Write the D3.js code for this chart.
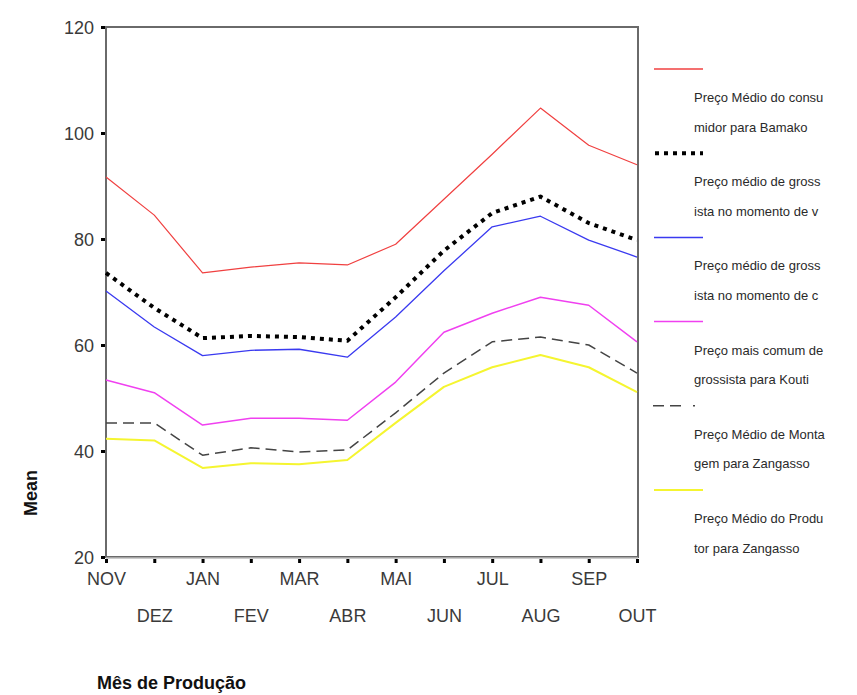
<!DOCTYPE html>
<html><head><meta charset="utf-8">
<script src="https://cdn.jsdelivr.net/npm/d3@7"></script>
<style>body{margin:0;background:#fff}svg{display:block}</style>
</head><body>
<svg id="c" width="857" height="695"></svg>
<script>
const months = ["NOV","DEZ","JAN","FEV","MAR","ABR","MAI","JUN","JUL","AUG","SEP","OUT"];
const yTicks = [20,40,60,80,100,120];
const consumidorBamako = [91.7,84.5,73.6,74.7,75.5,75.1,79,87.5,96,104.7,97.7,94];
const grossistaV      = [73.6,67,61.3,61.7,61.5,60.8,69,77.8,84.9,88,83,79.8];
const grossistaC      = [70.2,63.4,58,59,59.2,57.7,65.3,74,82.3,84.3,79.8,76.6];
const comumKouti      = [53.4,51,44.9,46.2,46.2,45.8,53,62.4,66,69,67.5,60.6];
const montagemZang    = [45.3,45.3,39.2,40.6,39.8,40.2,47.2,54.7,60.6,61.5,60,54.7];
const produtorZang    = [42.3,42,36.8,37.7,37.5,38.3,45.3,52.1,55.8,58.1,55.8,51.1];
const legendLabels = [
  ["Preço Médio do consu","midor para Bamako"],
  ["Preço médio de gross","ista no momento de v"],
  ["Preço médio de gross","ista no momento de c"],
  ["Preço mais comum de","grossista para Kouti"],
  ["Preço Médio de Monta","gem para Zangasso"],
  ["Preço Médio do Produ","tor para Zangasso"]
];
const seriesData = [consumidorBamako, grossistaV, grossistaC, comumKouti, montagemZang, produtorZang];
const styles = [
  {c:"#f04040", w:1.2, d:null},
  {c:"#000", w:4, d:"4,5"},
  {c:"#3a3af0", w:1.3, d:null},
  {c:"#f040f0", w:1.5, d:null},
  {c:"#444", w:1.5, d:"11,6"},
  {c:"#f5f530", w:2, d:null}
];

const svg = d3.select("#c");
const L=106, R=638, T=27, B=557;
const x = d3.scalePoint().domain(months).range([L, 637]);
const y = d3.scaleLinear().domain([20,120]).range([B, T]);
const font = "'Liberation Sans', Arial, sans-serif";

// frame
svg.append("rect").attr("x",L).attr("y",T).attr("width",R-L).attr("height",B-T)
  .attr("fill","none").attr("stroke","#6a6a6a").attr("stroke-width",2);
svg.append("line").attr("x1",L).attr("x2",R).attr("y1",B+1).attr("y2",B+1).attr("stroke","#bbb").attr("stroke-width",1.5);

// y axis ticks
const ya = svg.append("g").attr("transform",`translate(${L-1},0)`)
  .call(d3.axisLeft(y).tickValues(yTicks).tickSize(4).tickPadding(7));
ya.select(".domain").remove();
ya.selectAll(".tick line").attr("stroke","#000").attr("stroke-width",3);
ya.selectAll(".tick text").attr("font-family",font).attr("font-size",18).attr("fill","#3a3a3a").attr("dy","0.35em");

// x axis ticks
const xa = svg.append("g").attr("transform",`translate(0,${B+2})`)
  .call(d3.axisBottom(x).tickSize(4).tickPadding(8));
xa.select(".domain").remove();
xa.selectAll(".tick line").attr("stroke","#000").attr("stroke-width",3);
xa.selectAll(".tick text").attr("font-family",font).attr("font-size",18).attr("fill","#3a3a3a")
  .attr("y",(d,i)=> i%2===0 ? 13 : 50).attr("dy","0.71em");

// lines
const line = d3.line().x((d,i)=>x(months[i])).y(d=>y(d));
seriesData.forEach((s,k)=>{
  const st = styles[k];
  const p = svg.append("path").datum(s).attr("d",line).attr("fill","none")
    .attr("stroke",st.c).attr("stroke-width",st.w).attr("stroke-linejoin","round");
  if(st.d) p.attr("stroke-dasharray",st.d);
});

// legend
const lg = svg.append("g");
legendLabels.forEach((lab,k)=>{
  const st = styles[k];
  const y0 = 69 + 84.2*k;
  const l = lg.append("line").attr("x1",654).attr("x2",703).attr("y1",y0).attr("y2",y0)
    .attr("stroke",st.c).attr("stroke-width",k===1?4:(k===5?2:1.5));
  if(k===1) l.attr("stroke-dasharray","4,5").attr("x1",655);
  if(k===4) l.attr("stroke-dasharray","11,6,11,12,2,100").attr("x1",653);
  lab.forEach((t,j)=>{
    lg.append("text").attr("x",694).attr("y",y0+28.5+j*29.5).attr("dy","0.35em")
      .attr("font-family",font).attr("font-size",13).attr("fill","#2a2a2a").text(t);
  });
});

// axis titles
svg.append("text").attr("transform","translate(37,493) rotate(-90)").attr("text-anchor","middle")
  .attr("font-family",font).attr("font-size",18).attr("font-weight","bold").attr("fill","#111").text("Mean");
svg.append("text").attr("x",97).attr("y",689).attr("font-family",font).attr("font-size",18)
  .attr("font-weight","bold").attr("fill","#111").text("Mês de Produção");
</script>
</body></html>
